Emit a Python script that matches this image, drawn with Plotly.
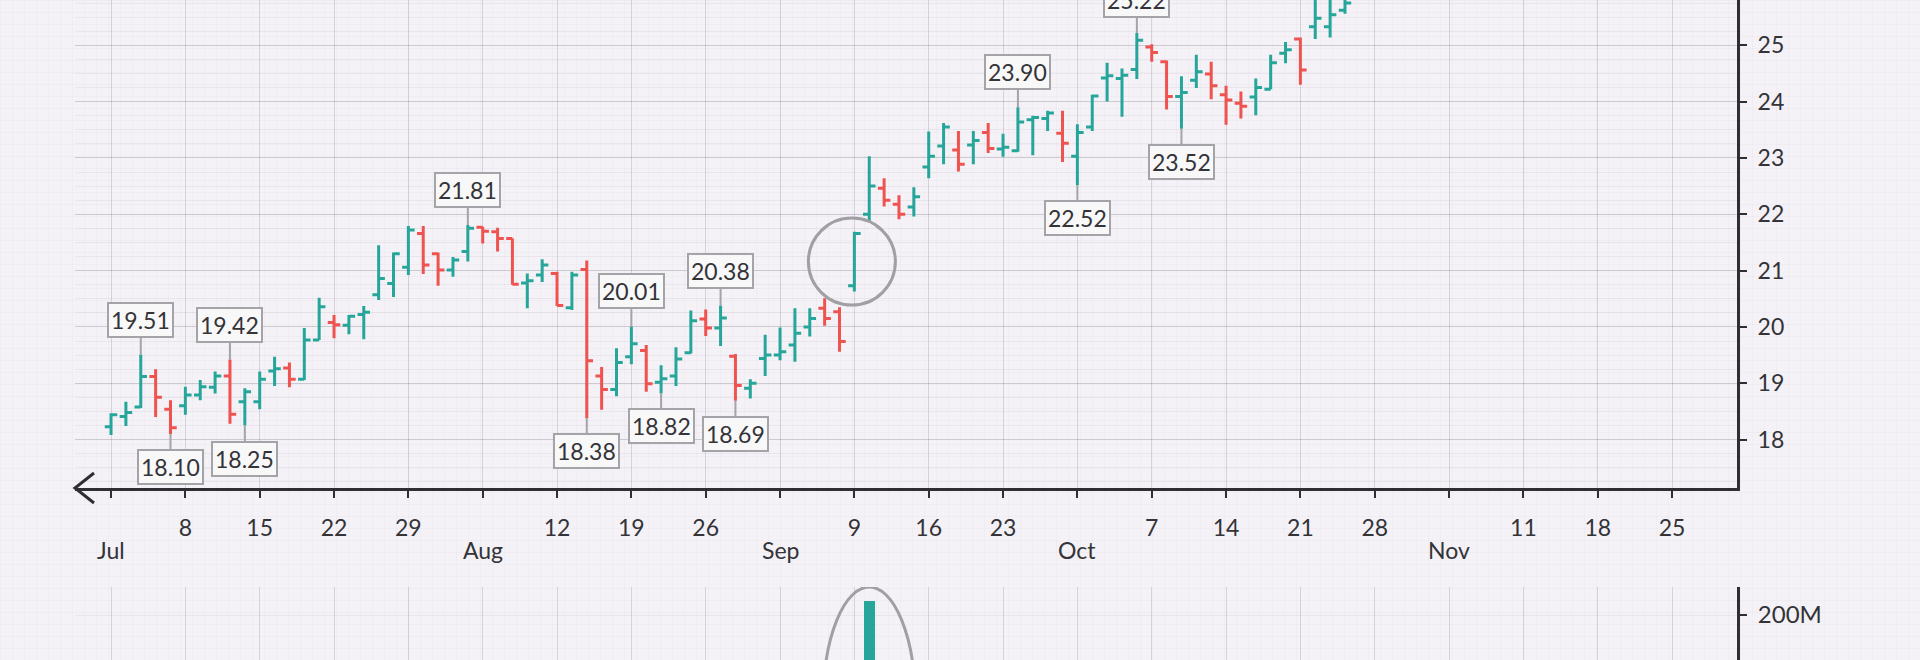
import base64
import pandas as pd
import plotly.graph_objects as go

# ---------------- data ----------------
opens = [18.23, 18.41, 18.58, 19.12, 18.54, 18.60, 18.79, 18.93, 19.13, 18.67,
         18.67, 19.22, 19.27, 19.07, 19.77, 20.08, 20.03, 20.22, 20.57, 20.77,
         21.06, 21.66, 21.30, 21.01, 21.34, 21.77, 21.69, 21.57, 20.78, 20.92,
         20.95, 20.34, 21.02, 19.13, 18.89, 19.47, 19.58, 19.02, 19.13, 19.54,
         20.14, 19.98, 19.48, 18.91, 19.44, 19.50, 19.68, 20.00, 20.33, 20.27,
         20.73, 22.00, 22.46, 22.18, 22.13, 22.84, 23.21, 23.14, 23.23, 23.45,
         23.16, 23.13, 23.68, 23.70, 23.44, 23.03, 23.55, 24.42, 24.41, 24.57,
         24.97, 24.71, 24.09, 24.38, 24.49, 24.12, 23.97, 24.08, 24.22, 24.86,
         25.11, 25.33, 25.33, 25.62]
highs = [18.47, 18.67, 19.51, 19.25, 18.70, 18.94, 19.06, 19.21, 19.42, 18.91,
         19.21, 19.47, 19.37, 19.98, 20.52, 20.21, 20.21, 20.37, 21.45, 21.32,
         21.79, 21.79, 21.32, 21.24, 21.81, 21.78, 21.76, 21.57, 20.95, 21.20,
         20.98, 20.98, 21.18, 19.29, 19.62, 20.01, 19.68, 19.32, 19.64, 20.29,
         20.31, 20.38, 19.52, 19.07, 19.86, 19.99, 20.33, 20.33, 20.51, 20.35,
         21.69, 23.03, 22.64, 22.34, 22.48, 23.47, 23.62, 23.48, 23.48, 23.62,
         23.43, 23.90, 23.75, 23.84, 23.84, 23.60, 24.12, 24.69, 24.59, 25.22,
         25.02, 24.73, 24.45, 24.83, 24.71, 24.28, 24.18, 24.41, 24.83, 25.06,
         25.14, 25.85, 25.85, 25.90]
lows = [18.08, 18.24, 18.56, 18.40, 18.10, 18.44, 18.70, 18.82, 18.28, 18.25,
        18.54, 18.95, 18.93, 19.06, 19.77, 19.80, 19.87, 19.78, 20.48, 20.53,
        20.92, 20.94, 20.73, 20.89, 21.16, 21.48, 21.34, 20.75, 20.33, 20.80,
        20.37, 20.30, 18.38, 18.53, 18.77, 19.34, 18.85, 18.82, 18.95, 19.53,
        19.84, 19.66, 18.69, 18.73, 19.13, 19.41, 19.38, 19.83, 20.02, 19.56,
        20.63, 21.87, 22.14, 21.91, 21.96, 22.64, 22.89, 22.76, 22.89, 23.09,
        23.02, 23.11, 23.05, 23.48, 22.93, 22.52, 23.48, 24.00, 23.73, 24.40,
        24.71, 23.86, 23.52, 24.24, 24.04, 23.59, 23.70, 23.76, 24.22, 24.68,
        24.30, 25.11, 25.14, 25.56]
closes = [18.44, 18.48, 19.12, 18.75, 18.21, 18.79, 18.94, 19.13, 18.45, 18.85,
          19.07, 19.26, 19.07, 19.77, 20.36, 20.04, 20.19, 20.26, 20.86, 21.30,
          21.72, 21.10, 21.01, 21.19, 21.75, 21.70, 21.57, 20.76, 20.82, 21.10,
          20.38, 20.92, 19.40, 18.89, 19.37, 19.70, 18.99, 19.08, 19.43, 20.11,
          19.98, 20.16, 18.96, 19.00, 19.50, 19.56, 19.89, 20.15, 20.15, 19.74,
          21.66, 22.50, 22.25, 22.00, 22.31, 23.03, 23.55, 22.89, 23.31, 23.17,
          23.19, 23.64, 23.72, 23.80, 23.26, 23.45, 24.10, 24.46, 24.47, 25.09,
          24.87, 24.09, 24.16, 24.53, 24.28, 24.03, 23.92, 24.25, 24.69, 24.92,
          24.56, 25.48, 25.54, 25.75]
dates = pd.bdate_range("2019-07-01", periods=len(opens))

# labelled highs / lows (bar index, which extreme)
label_idx = [2, 4, 8, 9, 24, 32, 35, 37, 41, 42, 61, 65, 69, 72]
label_kind = ["high", "low", "high", "low", "high", "low", "high", "low",
              "high", "low", "high", "low", "high", "low"]
circled_idx = 50

# x-axis ticks (Mondays): day numbers on the first row, months on the second
tick_dates = pd.date_range("2019-07-01", "2019-11-25", freq="W-MON")
tick_days = ["", "8", "15", "22", "29", "", "12", "19", "26", "", "9", "16",
             "23", "", "7", "14", "21", "28", "", "11", "18", "25"]
tick_months = ["Jul", "", "", "", "", "Aug", "", "", "", "Sep", "", "", "",
               "Oct", "", "", "", "", "Nov", "", "", ""]
price_ticks = [18, 19, 20, 21, 22, 23, 24, 25]

# volume (only the visible spike)
vol_dates = ["2019-09-10"]
vol_values = [228e6]
vol_ticks = [200e6]
vol_tick_text = ["200M"]

# ---------------- styling ----------------
GREEN = "#26a69a"
RED = "#ef5350"
AXIS = "#2e2e33"
TEXT = "#333338"
LABEL_GRAY = "#a3a3a8"
BG = "#f4f2f7"
FONT = "Lato"
FS = 23
W, H = 1920, 660
L, R = 75, 183
PW = W - L - R
main_bottom = 1 - 488 / H
vol_top = 1 - 587 / H
month_row = 1 - 550 / H

rb = [dict(bounds=["sat", "mon"])]

fig = go.Figure()
fig.add_trace(go.Ohlc(
    x=dates, open=opens, high=highs, low=lows, close=closes,
    increasing=dict(line=dict(color=GREEN, width=3)),
    decreasing=dict(line=dict(color=RED, width=3)),
    tickwidth=0.42, showlegend=False, hoverinfo="x+y",
    xaxis="x", yaxis="y"))
fig.add_trace(go.Bar(
    x=vol_dates, y=vol_values, marker=dict(color=GREEN, line=dict(width=0)),
    width=0.75 * 86400000, showlegend=False, xaxis="x2", yaxis="y2"))

for i, kind in zip(label_idx, label_kind):
    val = highs[i] if kind == "high" else lows[i]
    fig.add_annotation(
        x=dates[i], y=val, xref="x", yref="y", text=f"{val:.2f}",
        showarrow=True, arrowhead=0, arrowwidth=2, arrowcolor=LABEL_GRAY,
        ax=0, ay=-35 if kind == "high" else 33, standoff=0,
        bordercolor=LABEL_GRAY, borderwidth=2, borderpad=2, bgcolor="#f8f8f9",
        font=dict(family=FONT, size=FS, color=TEXT))

# month names as the second row of the time axis
for d, m in zip(tick_dates, tick_months):
    if m:
        fig.add_annotation(x=d, y=month_row, xref="x", yref="paper", text=m,
                           showarrow=False, xanchor="center", yanchor="middle",
                           font=dict(family=FONT, size=FS, color=TEXT))

# highlight circle around the gap bar, ellipse around the volume spike
fig.add_shape(type="circle", xref="x", yref="y", xsizemode="pixel", ysizemode="pixel",
              xanchor=dates[circled_idx], yanchor=(highs[circled_idx] + lows[circled_idx]) / 2,
              x0=-46, x1=41, y0=-43.5, y1=43.5, line=dict(color="#a0a0a4", width=3))
fig.add_shape(type="circle", xref="x2", yref="y2", xsizemode="pixel", ysizemode="pixel",
              xanchor=vol_dates[0], yanchor=vol_values[0],
              x0=-46, x1=46, y0=-214, y1=14, line=dict(color="#a0a0a4", width=3))

# arrow head at the left end of the time axis
ax0, ay0 = 0, main_bottom
dx, dy = 19 / PW, 15 / H
fig.add_shape(type="path", xref="paper", yref="paper",
              path=f"M {ax0+dx},{ay0+dy} L {ax0},{ay0} L {ax0+dx},{ay0-dy}",
              line=dict(color=AXIS, width=3))

# graph-paper texture behind everything
svg = (f'<svg xmlns="http://www.w3.org/2000/svg" width="{W}" height="{H}">'
       '<defs><pattern id="p" width="12" height="12" patternUnits="userSpaceOnUse">'
       '<path d="M12 0 L0 0 0 12" fill="none" stroke="rgba(110,100,130,0.08)" stroke-width="1"/>'
       '</pattern></defs>'
       f'<rect width="{W}" height="{H}" fill="{BG}"/>'
       f'<rect width="{W}" height="{H}" fill="url(#p)"/></svg>')
src = "data:image/svg+xml;base64," + base64.b64encode(svg.encode()).decode()
fig.add_layout_image(source=src, xref="paper", yref="paper", x=-L / PW, y=1,
                     sizex=W / PW, sizey=1, xanchor="left", yanchor="top",
                     sizing="stretch", layer="below")

grid_major = "rgba(90,85,105,0.20)"
grid_minor = "rgba(90,85,105,0.07)"
x_range = ["2019-06-26 13:50", "2019-11-29 08:50"]

fig.update_layout(
    width=W, height=H, autosize=False,
    margin=dict(l=L, r=R, t=0, b=0),
    paper_bgcolor=BG, plot_bgcolor="rgba(0,0,0,0)",
    font=dict(family=FONT, size=FS, color=TEXT),
    showlegend=False, bargap=0,
    xaxis=dict(domain=[0, 1], anchor="y", type="date", range=x_range, rangebreaks=rb,
               rangeslider=dict(visible=False),
               tickmode="array", tickvals=tick_dates, ticktext=tick_days,
               showline=True, linecolor=AXIS, linewidth=3,
               ticks="outside", ticklen=7, tickwidth=2, tickcolor=AXIS,
               ticklabelstandoff=10,
               tickfont=dict(family=FONT, size=FS, color=TEXT),
               showgrid=True, gridcolor=grid_major, gridwidth=1, zeroline=False),
    yaxis=dict(domain=[main_bottom, 1], anchor="x", side="right",
               range=[17.141, 25.804], tickmode="array", tickvals=price_ticks,
               showline=True, linecolor=AXIS, linewidth=3,
               ticks="outside", ticklen=7, tickwidth=2, tickcolor=AXIS,
               ticklabelstandoff=6,
               tickfont=dict(family=FONT, size=FS, color=TEXT),
               showgrid=True, gridcolor=grid_major, gridwidth=1, zeroline=False,
               minor=dict(dtick=0.25, showgrid=True, gridcolor=grid_minor, ticks="")),
    xaxis2=dict(domain=[0, 1], anchor="y2", type="date", matches="x", rangebreaks=rb,
                tickmode="array", tickvals=tick_dates, showticklabels=False,
                showline=False, ticks="", showgrid=True, gridcolor=grid_major,
                zeroline=False),
    yaxis2=dict(domain=[0, vol_top], anchor="x2", side="right",
                range=[110e6, 256e6], tickmode="array", tickvals=vol_ticks,
                ticktext=vol_tick_text,
                showline=True, linecolor=AXIS, linewidth=3,
                ticks="outside", ticklen=7, tickwidth=2, tickcolor=AXIS,
                ticklabelstandoff=6,
                tickfont=dict(family=FONT, size=FS + 1, color=TEXT),
                showgrid=True, gridcolor=grid_minor, zeroline=False),
)

fig.write_html("out.html", config={"displayModeBar": False},
               post_script="document.body.style.margin='0px';")
